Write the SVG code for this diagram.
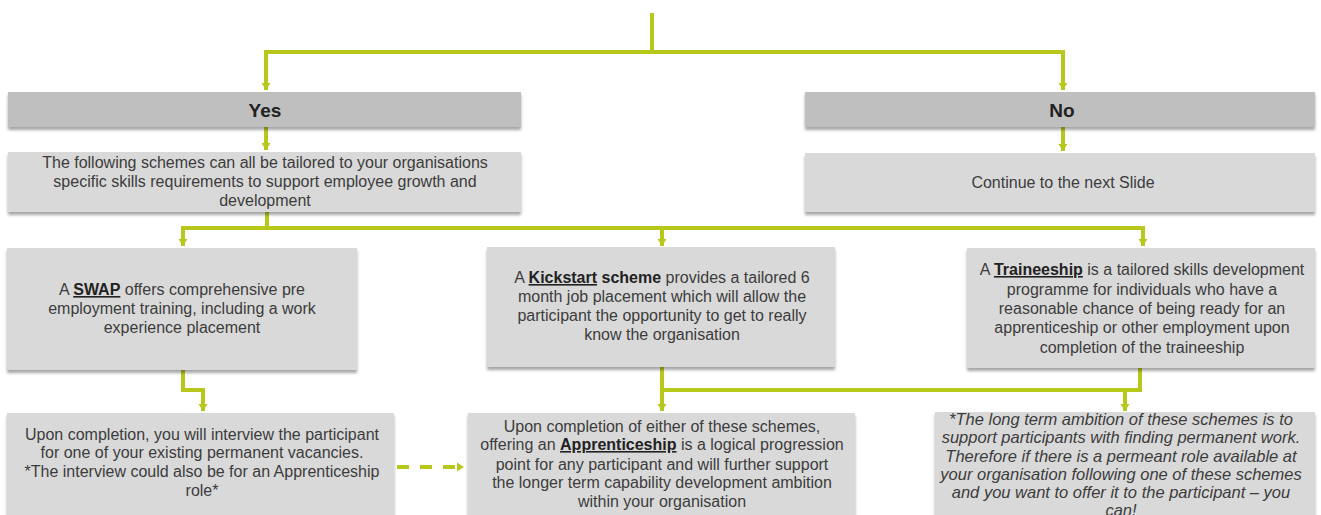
<svg xmlns="http://www.w3.org/2000/svg" width="1321" height="515" viewBox="0 0 1321 515">
<style>
.hdr{fill:#bfbfbf;filter:url(#sh)}
.box{fill:#d9d9d9;filter:url(#sh)}
.t{font-family:"Liberation Sans",Arial,sans-serif;font-size:16px;fill:#3c3c3c;text-anchor:middle}
.h{font-family:"Liberation Sans",Arial,sans-serif;font-size:19px;font-weight:bold;fill:#222;text-anchor:middle}
.b{font-weight:bold;fill:#222}
.u{font-weight:bold;fill:#222;text-decoration:underline}
.i{font-style:italic;font-size:16.5px}
.c{fill:none;stroke:#b8c81b;stroke-width:4}
.d{fill:none;stroke:#b8c81b;stroke-width:4;stroke-dasharray:12 11}
</style>
<defs>
<filter id="sh" x="-5%" y="-10%" width="110%" height="130%">
<feDropShadow dx="0" dy="3" stdDeviation="1.5" flood-color="#000" flood-opacity="0.35"/>
</filter>
<marker id="ar" markerUnits="userSpaceOnUse" markerWidth="10" markerHeight="10" refX="7" refY="5" orient="auto">
<path d="M0,0.5 L7,5 L0,9.5 z" fill="#b8c81b"/>
</marker>
</defs>
<rect width="1321" height="515" fill="#fff"/>

<g id="connectors">
<path class="c" d="M652 13 V52"/>
<path class="c" d="M652 52 H266 V90" marker-end="url(#ar)"/>
<path class="c" d="M652 52 H1063 V90" marker-end="url(#ar)"/>
<path class="c" d="M266 127 V150" marker-end="url(#ar)"/>
<path class="c" d="M1063 127 V151" marker-end="url(#ar)"/>
<path class="c" d="M267 212 V228"/>
<path class="c" d="M181 228 H1145"/>
<path class="c" d="M183 228 V246" marker-end="url(#ar)"/>
<path class="c" d="M662 228 V246" marker-end="url(#ar)"/>
<path class="c" d="M1143 228 V246" marker-end="url(#ar)"/>
<path class="c" d="M183 370 V390 H203 V411" marker-end="url(#ar)"/>
<path class="c" d="M662 367 V411" marker-end="url(#ar)"/>
<path class="c" d="M1140 368 V390 H662"/>
<path class="c" d="M1125 390 V411" marker-end="url(#ar)"/>
<path class="d" d="M397 467 H464" marker-end="url(#ar)"/>
</g>

<g id="yes">
<rect class="hdr" x="8" y="92" width="513" height="35"/>
<text class="h" x="265" y="117">Yes</text>
</g>
<g id="no">
<rect class="hdr" x="805" y="92" width="510" height="35"/>
<text class="h" x="1062" y="117">No</text>
</g>
<g id="schemes">
<rect class="box" x="8" y="152" width="513" height="60"/>
<text class="t" x="265" y="168">The following schemes can all be tailored to your organisations</text>
<text class="t" x="265" y="187">specific skills requirements to support employee growth and</text>
<text class="t" x="265" y="206">development</text>
</g>
<g id="continue">
<rect class="box" x="805" y="153" width="510" height="59"/>
<text class="t" x="1063" y="188">Continue to the next Slide</text>
</g>
<g id="swap">
<rect class="box" x="7" y="248" width="350" height="122"/>
<text class="t" x="182" y="295">A <tspan class="u">SWAP</tspan> offers comprehensive pre</text>
<text class="t" x="182" y="314">employment training, including a work</text>
<text class="t" x="182" y="333">experience placement</text>
</g>
<g id="kickstart">
<rect class="box" x="487" y="247" width="348" height="120"/>
<text class="t" x="662" y="283">A <tspan class="u">Kickstart</tspan> <tspan class="b">scheme</tspan> provides a tailored 6</text>
<text class="t" x="662" y="302">month job placement which will allow the</text>
<text class="t" x="662" y="321">participant the opportunity to get to really</text>
<text class="t" x="662" y="340">know the organisation</text>
</g>
<g id="traineeship">
<rect class="box" x="967" y="248" width="348" height="120"/>
<text class="t" x="1142" y="275">A <tspan class="u">Traineeship</tspan> is a tailored skills development</text>
<text class="t" x="1142" y="295">programme for individuals who have a</text>
<text class="t" x="1142" y="314">reasonable chance of being ready for an</text>
<text class="t" x="1142" y="333">apprenticeship or other employment upon</text>
<text class="t" x="1142" y="353">completion of the traineeship</text>
</g>
<g id="interview">
<rect class="box" x="7" y="413" width="387" height="110"/>
<text class="t" x="202" y="440">Upon completion, you will interview the participant</text>
<text class="t" x="202" y="458">for one of your existing permanent vacancies.</text>
<text class="t" x="202" y="477">*The interview could also be for an Apprenticeship</text>
<text class="t" x="202" y="496">role*</text>
</g>
<g id="apprenticeship">
<rect class="box" x="468" y="413" width="387" height="110"/>
<text class="t" x="662" y="432">Upon completion of either of these schemes,</text>
<text class="t" x="662" y="450">offering an <tspan class="u">Apprenticeship</tspan> is a logical progression</text>
<text class="t" x="662" y="470">point for any participant and will further support</text>
<text class="t" x="662" y="488">the longer term capability development ambition</text>
<text class="t" x="662" y="507">within your organisation</text>
</g>
<g id="ambition">
<rect class="box" x="935" y="412" width="380" height="110"/>
<text class="t i" x="1121" y="425">*The long term ambition of these schemes is to</text>
<text class="t i" x="1121" y="443">support  participants with finding permanent work.</text>
<text class="t i" x="1121" y="462">Therefore if there is a permeant role available at</text>
<text class="t i" x="1121" y="480">your organisation following one of these schemes</text>
<text class="t i" x="1121" y="498">and you want to  offer it to  the participant – you</text>
<text class="t i" x="1121" y="516">can!</text>
</g>
</svg>
